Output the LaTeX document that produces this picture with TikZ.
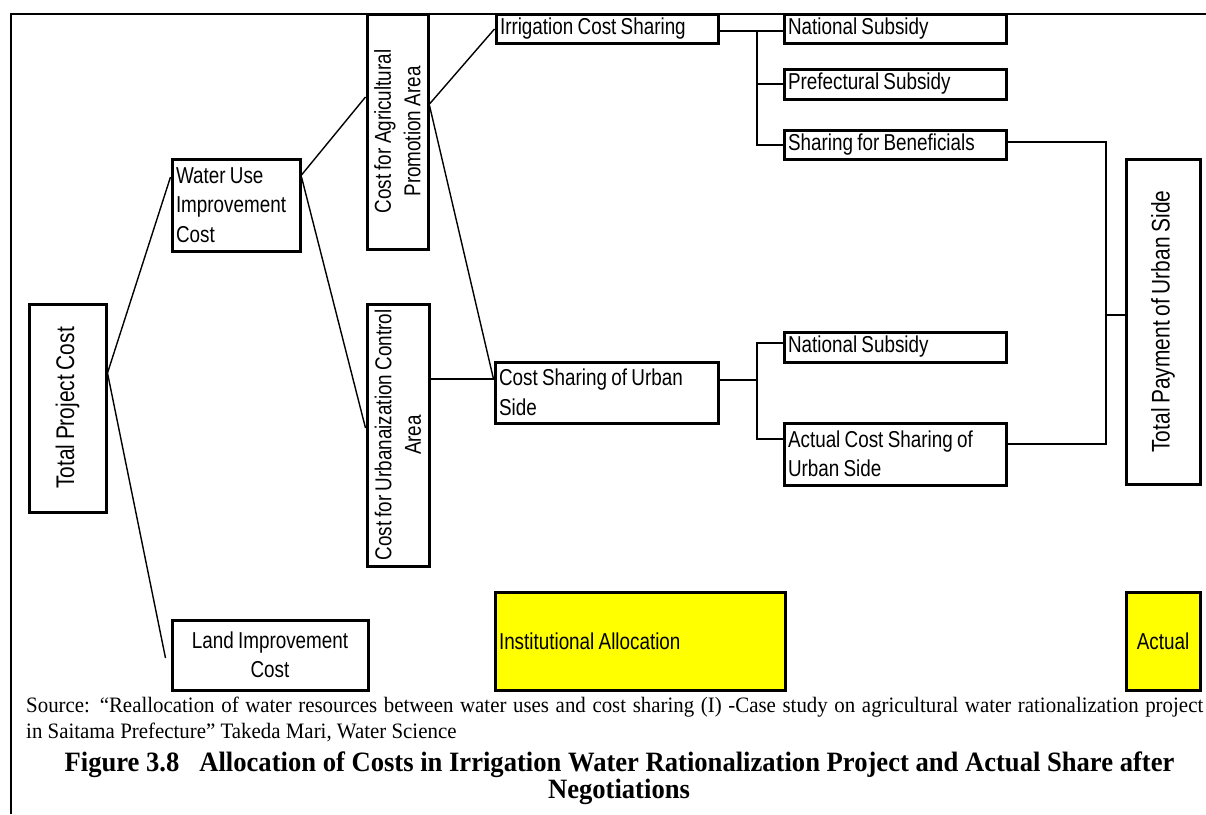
\documentclass[tikz,border=0pt]{standalone}
\usepackage{fontspec}
\newfontfamily\boxfont{Liberation Sans}[FakeStretch=0.82,WordSpace=0.82]
\newfontfamily\capfont{Liberation Serif}[FakeStretch=0.95]
\usetikzlibrary{calc}
\definecolor{hlyellow}{RGB}{255,255,0}

\begin{document}
\begin{tikzpicture}[x=1pt,y=-1pt,
  box/.style={draw, line width=3pt, inner xsep=4pt, inner ysep=0pt,
              font=\boxfont\fontsize{23}{29.5}\selectfont},
  boxl/.style={box, align=flush left},
  boxc/.style={box, align=center},
  vbox/.style={box, align=center, rotate=90},
  big/.style={font=\boxfont\fontsize{25.5}{30}\selectfont},
  hl/.style={fill=hlyellow},
  link/.style={line width=1.4pt},
  outerframe/.style={line width=2.5pt},
  captext/.style={inner sep=0pt, font=\capfont\fontsize{22}{26}\selectfont},
  titletext/.style={inner sep=0pt, font=\capfont\bfseries\fontsize{28}{32}\selectfont}
]
\useasboundingbox (0,0) rectangle (1206,814);

% outer frame (left and top edges)
\draw[outerframe] (11,814) -- (11,14) -- (1206,14);

% cost boxes
\node[vbox,big,minimum width=208pt,minimum height=77pt] (tpc) at (67.5,408) {Total Project Cost};
\node[boxl,text width=120pt,minimum height=92pt] (wuc) at (236,205) {Water Use\\Improvement\\Cost};
\node[boxc,minimum width=196pt,minimum height=70pt] (lic) at (270,655) {Land Improvement\\Cost};
\node[vbox,minimum width=235pt,minimum height=61pt] (agr) at (397.5,131.5) {Cost for Agricultural\\Promotion Area};
\node[vbox,minimum width=262pt,minimum height=62pt] (urb) at (398,435) {Cost for Urbanaization Control\\Area};
\node[boxl,text width=214pt,minimum height=29pt] (irr) at (607,28.5) {Irrigation Cost Sharing};
\node[boxl,text width=215pt,minimum height=61pt] (csu) at (606.5,392.5) {Cost Sharing of Urban\\Side};
\node[boxl,text width=214pt,minimum height=29pt] (ns1) at (895,28.5) {National Subsidy};
\node[boxl,text width=214pt,minimum height=30pt] (pfs) at (895,84) {Prefectural Subsidy};
\node[boxl,text width=214pt,minimum height=29pt] (sfb) at (895,144.5) {Sharing for Beneficials};
\node[boxl,text width=214pt,minimum height=30pt] (ns2) at (895,347) {National Subsidy};
\node[boxl,text width=214pt,minimum height=62pt] (acs) at (895,454) {Actual Cost Sharing of\\Urban Side};
\node[vbox,big,minimum width=325pt,minimum height=74pt] (tpu) at (1163,321.5) {Total Payment of Urban Side};
\node[boxl,hl,text width=282pt,minimum height=98pt] (ia) at (640,641) {Institutional Allocation};
\node[boxc,hl,minimum width=74pt,minimum height=98pt] (act) at (1163,641) {Actual};

% junction points of the brackets
\coordinate (j1) at (757,31);
\coordinate (j2) at (757,380);
\coordinate (j3) at (1106,315);

% tree connectors
\draw[link] ([yshift=35pt]tpc.south) -- ([yshift=28pt]wuc.west);
\draw[link] ([yshift=35pt]tpc.south) -- ([xshift=-5pt,yshift=-3pt]lic.west);
\draw[link] ([yshift=30pt]wuc.east) -- ([yshift=34.5pt]agr.north);
\draw[link] ([yshift=28pt]wuc.east) -- ([yshift=7pt]urb.north);
\draw[link] ([yshift=27.5pt]agr.south) -- ([yshift=-0.5pt]irr.west);
\draw[link] ([yshift=26pt]agr.south) -- ([yshift=13.5pt]csu.west);
\draw[link] ([yshift=56pt]urb.south) -- ([yshift=13.5pt]csu.west);

% irrigation cost bracket
\draw[link] ([yshift=-2.5pt]irr.east) -- ([yshift=-2.5pt]ns1.west);
\draw[link] (j1) |- ([yshift=-0.5pt]sfb.west);
\draw[link] (j1 |- pfs.west) -- (pfs.west);

% urban side bracket
\draw[link] ([yshift=12.5pt]csu.east) -- (j2);
\draw[link] ([yshift=4pt]ns2.west) -| (j2) |- ([yshift=15pt]acs.west);

% total payment bracket
\draw[link] ([yshift=2.5pt]sfb.east) -| (j3) |- ([yshift=10pt]acs.east);
\draw[link] (j3) -- (j3 -| tpu.north);

% source and caption
\node[captext,anchor=base west] (src1) at (26,712)
  {\makebox[1177pt][s]{Source: “Reallocation of water resources between water uses and cost sharing (I) -Case study on agricultural water rationalization project}};
\node[captext,anchor=base west] (src2) at (26,738)
  {in Saitama Prefecture” Takeda Mari, Water Science};
\node[titletext,anchor=base] (ttl1) at (619.5,771)
  {Figure 3.8\hspace{20pt}Allocation of Costs in Irrigation Water Rationalization Project and Actual Share after};
\node[titletext,anchor=base] (ttl2) at (619,798) {Negotiations};
\end{tikzpicture}
\end{document}
